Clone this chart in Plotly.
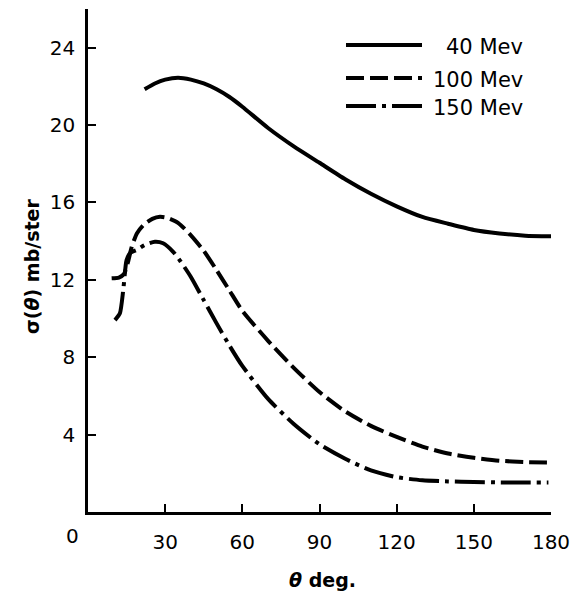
import plotly.graph_objects as go

# ---- data ----
deg_40 = [22, 26, 30, 35, 40, 45, 50, 55, 60, 70, 80, 90, 100, 110, 120, 130, 140, 150, 160, 170, 180]
sig_40 = [21.85, 22.15, 22.35, 22.45, 22.35, 22.15, 21.85, 21.45, 20.95, 19.85, 18.9, 18.05, 17.2,
          16.45, 15.8, 15.25, 14.9, 14.58, 14.4, 14.28, 14.25]

deg_100 = [9.2, 12, 14, 15.5, 17, 19, 21.5, 25, 28, 31, 35, 40, 45, 50, 55, 60, 70, 80, 90, 100,
           110, 120, 130, 140, 150, 160, 170, 180]
sig_100 = [12.08, 12.12, 12.3, 12.9, 13.7, 14.4, 14.83, 15.15, 15.26, 15.2, 14.95, 14.3, 13.5,
           12.5, 11.45, 10.4, 8.85, 7.45, 6.2, 5.2, 4.45, 3.88, 3.38, 3.02, 2.8, 2.65, 2.58, 2.56]

deg_150 = [10.5, 12.4, 13.7, 15.0, 16.5, 18.9, 22, 26, 29.2, 33.1, 36, 40, 45, 50, 55, 60,
           70, 80, 90, 100, 110, 120, 130, 140, 150, 160, 170, 179]
sig_150 = [9.92, 10.27, 11.47, 13.02, 13.4, 13.54, 13.8, 13.97, 13.89, 13.45, 12.95, 12.15, 10.95,
           9.75, 8.6, 7.55, 5.85, 4.55, 3.5, 2.75, 2.15, 1.8, 1.64, 1.58, 1.55, 1.53, 1.52, 1.52]

series_names = ["40 Mev", "100 Mev", "150 Mev"]
x_ticks = [30, 60, 90, 120, 150, 180]
y_ticks = [4, 8, 12, 16, 20, 24]

FONT = "DejaVu Sans"
dashes = ["solid", "18px,6px", "30px,6px,4px,6px"]

fig = go.Figure()
for name, xs, ys, dash in zip(series_names, [deg_40, deg_100, deg_150],
                              [sig_40, sig_100, sig_150], dashes):
    fig.add_trace(go.Scatter(x=xs, y=ys, mode="lines", name=name,
                             line=dict(color="black", width=4, dash=dash, shape="spline",
                                       smoothing=0.6),
                             showlegend=False))

# plot area geometry (pixels) for paper conversion
L, R, T, B = 88, 21, 9, 80
W, H = 572, 592
pw, ph = W - L - R, H - T - B

def px(x):
    return (x - L) / pw

def py(y):
    return (H - B - y) / ph

# manual legend
leg_y = [45, 78, 106]
for name, dash, yy in zip(series_names, dashes, leg_y):
    fig.add_shape(type="line", xref="paper", yref="paper", x0=px(346), x1=px(422),
                  y0=py(yy), y1=py(yy), line=dict(color="black", width=4, dash=dash))
    fig.add_annotation(xref="paper", yref="paper", x=px(525), y=py(yy + 2), text=name,
                       showarrow=False, xanchor="right", yanchor="middle",
                       font=dict(family=FONT, size=21, color="black"))

# shared origin label
fig.add_annotation(xref="paper", yref="paper", x=px(72), y=py(536), text="0", showarrow=False,
                   xanchor="center", yanchor="middle", font=dict(family=FONT, size=20, color="black"))

# axis titles
fig.add_annotation(xref="paper", yref="paper", x=px(32), y=py(267), text="σ(<i>θ</i>) mb/ster",
                   textangle=-90, showarrow=False, xanchor="center", yanchor="middle",
                   font=dict(family=FONT, size=19, color="black", weight="bold"))
fig.add_annotation(xref="paper", yref="paper", x=px(322), y=py(580), text="<i>θ</i> deg.",
                   showarrow=False, xanchor="center", yanchor="middle",
                   font=dict(family=FONT, size=19, color="black", weight="bold"))

fig.update_layout(
    template="none",
    width=W, height=H,
    margin=dict(l=L, r=R, t=T, b=B, autoexpand=False),
    paper_bgcolor="white", plot_bgcolor="white",
    font=dict(family=FONT, size=20, color="black"),
)
fig.update_xaxes(range=[0, 180], tickvals=x_ticks, ticktext=[str(v) for v in x_ticks],
                 ticks="inside", ticklen=8, tickwidth=1.5, tickcolor="black",
                 showline=True, linecolor="black", linewidth=2.5, automargin=False,
                 showgrid=False, zeroline=False, ticklabelstandoff=10,
                 tickfont=dict(family=FONT, size=20, color="black"))
fig.update_yaxes(range=[0, 26], tickvals=y_ticks, ticktext=[str(v) for v in y_ticks],
                 ticks="inside", ticklen=8, tickwidth=1.5, tickcolor="black",
                 showline=True, linecolor="black", linewidth=2.5, automargin=False,
                 showgrid=False, zeroline=False, ticklabelstandoff=6,
                 tickfont=dict(family=FONT, size=20, color="black"))

fig.write_html("out.html", config={"displayModeBar": False},
               post_script="document.body.style.margin='0';")
